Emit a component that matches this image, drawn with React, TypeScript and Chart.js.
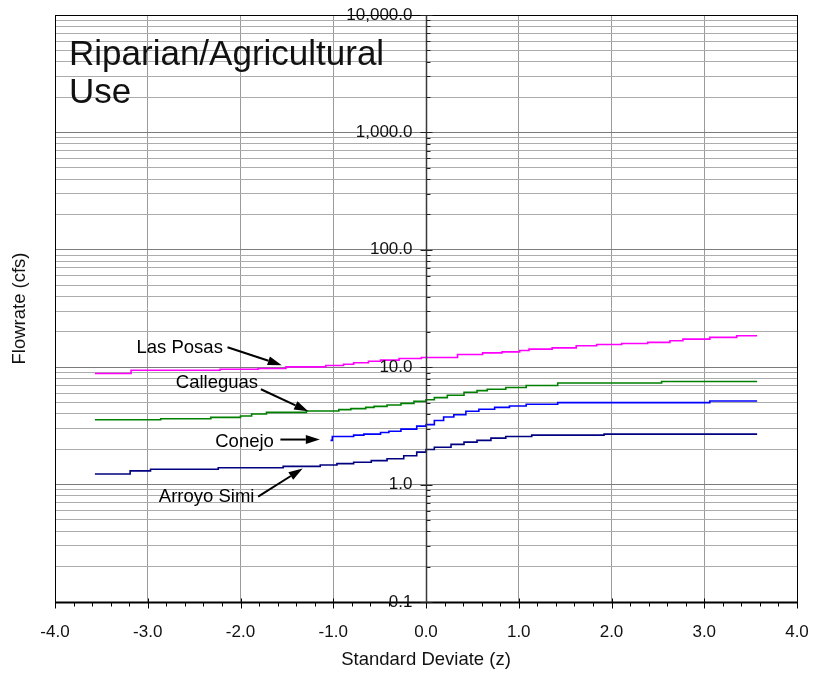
import { useEffect, useRef } from 'react';
import { Chart, registerables } from 'chart.js';

Chart.register(...registerables);

const FONT = '"Liberation Sans", Arial, Helvetica, sans-serif';

// Flow-duration curves: standard deviate (z) where each step begins, and flow (cfs) after the step
const lasPosasZ = [-3.57, -3.18, -2.22, -1.81, -1.51, -1.08, -0.89, -0.78, -0.62, -0.49, -0.29, -0.05, 0.34, 0.61, 0.82, 1.01, 1.11, 1.36, 1.62, 1.84, 2.11, 2.39, 2.63, 2.77, 3.06, 3.35, 3.57];
const lasPosasQ = [8.83, 9.43, 9.61, 9.75, 10.06, 10.34, 10.6, 10.9, 11.25, 11.48, 11.87, 12.1, 12.84, 13.25, 13.51, 13.89, 14.25, 14.62, 15.21, 15.63, 15.94, 16.26, 16.78, 17.35, 17.94, 18.52, 18.52];

const calleguasZ = [-3.57, -2.86, -2.32, -2.0, -1.88, -1.72, -1.29, -0.94, -0.81, -0.65, -0.56, -0.42, -0.27, -0.13, 0.0, 0.09, 0.23, 0.41, 0.55, 0.66, 0.86, 1.08, 1.42, 2.54, 3.57];
const calleguasQ = [3.57, 3.64, 3.74, 3.84, 3.99, 4.12, 4.23, 4.35, 4.44, 4.55, 4.64, 4.76, 4.92, 5.12, 5.28, 5.51, 5.77, 6.11, 6.32, 6.49, 6.71, 6.98, 7.34, 7.55, 7.55];

const conejoZ = [-1.03, -1.01, -0.78, -0.67, -0.49, -0.4, -0.27, -0.1, 0.0, 0.09, 0.19, 0.3, 0.43, 0.57, 0.74, 0.9, 1.08, 1.42, 3.06, 3.57];
const conejoQ = [2.38, 2.57, 2.64, 2.69, 2.78, 2.85, 2.97, 3.15, 3.24, 3.52, 3.76, 3.94, 4.21, 4.38, 4.55, 4.67, 4.83, 4.99, 5.15, 5.15];

const arroyoSimiZ = [-3.57, -3.19, -2.97, -2.24, -1.54, -1.14, -0.96, -0.78, -0.59, -0.42, -0.24, -0.1, 0.0, 0.09, 0.27, 0.41, 0.55, 0.7, 0.86, 1.14, 1.92, 3.57];
const arroyoSimiQ = [1.23, 1.31, 1.35, 1.39, 1.43, 1.47, 1.51, 1.55, 1.6, 1.66, 1.76, 1.89, 1.99, 2.08, 2.2, 2.3, 2.38, 2.49, 2.57, 2.64, 2.69, 2.69];

const seriesNames = ['Las Posas', 'Calleguas', 'Conejo', 'Arroyo Simi'];
const seriesColors = ['#ff00ff', '#008000', '#0000ff', '#000080'];

// Log axis: decade values and their labels
const yDecades = [0.1, 1, 10, 100, 1000, 10000];
const yDecadeLabels = ['0.1', '1.0', '10.0', '100.0', '1,000.0', '10,000.0'];

const chartTitleLines = ['Riparian/Agricultural', 'Use'];
const xTitle = 'Standard Deviate (z)';
const yTitle = 'Flowrate (cfs)';

// Callouts: label anchor (right end of text), arrow tail and arrow tip, in (z, cfs)
const calloutText = ['Las Posas', 'Calleguas', 'Conejo', 'Arroyo Simi'];
const calloutAnchor = [[-2.19, 14.5], [-1.81, 7.3], [-1.64, 2.29], [-1.85, 0.79]];
const calloutTail = [[-2.14, 14.8], [-1.78, 6.49], [-1.57, 2.42], [-1.81, 0.79]];
const calloutTip = [[-1.555, 10.4], [-1.27, 4.21], [-1.145, 2.42], [-1.33, 1.37]];

// every 1..9 x 10^n between 0.1 and 10,000
const yGridValues: number[] = [];
for (let e = -1; e <= 3; e++) {
  for (let m = 1; m <= 9; m++) yGridValues.push(Number((m * Math.pow(10, e)).toPrecision(3)));
}
yGridValues.push(10000);

const isDecade = (v: number) => yDecades.some((d) => Math.abs(d - v) / d < 1e-6);

function drawArrow(ctx: CanvasRenderingContext2D, x1: number, y1: number, x2: number, y2: number) {
  const ang = Math.atan2(y2 - y1, x2 - x1);
  const headLen = 14;
  const headW = 4.5;
  const bx = x2 - headLen * Math.cos(ang);
  const by = y2 - headLen * Math.sin(ang);
  ctx.beginPath();
  ctx.moveTo(x1, y1);
  ctx.lineTo(bx, by);
  ctx.lineWidth = 2;
  ctx.stroke();
  ctx.beginPath();
  ctx.moveTo(x2, y2);
  ctx.lineTo(bx + headW * Math.sin(ang), by - headW * Math.cos(ang));
  ctx.lineTo(bx - headW * Math.sin(ang), by + headW * Math.cos(ang));
  ctx.closePath();
  ctx.fill();
}

const decorPlugin = {
  id: 'decor',
  afterDraw(chart: any) {
    const { ctx, chartArea: a, scales } = chart;
    const xs = scales.x;
    const ys = scales.y;
    ctx.save();

    // plot frame
    ctx.strokeStyle = '#000';
    ctx.lineWidth = 1;
    ctx.strokeRect(Math.round(a.left) + 0.5, Math.round(a.top) + 0.5, Math.round(a.right - a.left), Math.round(a.bottom - a.top));

    // bottom axis line and ticks
    const yb = Math.round(a.bottom) + 0.5;
    ctx.lineWidth = 2;
    ctx.beginPath();
    ctx.moveTo(a.left, yb);
    ctx.lineTo(a.right, yb);
    ctx.stroke();
    ctx.lineWidth = 1;
    for (let i = -20; i <= 20; i++) {
      const px = Math.round(xs.getPixelForValue(i / 5)) + 0.5;
      const major = i % 5 === 0;
      ctx.beginPath();
      ctx.moveTo(px, yb - (major ? 4 : 0));
      ctx.lineTo(px, yb + (major ? 6 : 4));
      ctx.stroke();
    }

    // vertical axis through z = 0
    const x0 = Math.round(xs.getPixelForValue(0)) + 0.5;
    ctx.strokeStyle = '#3a3a3a';
    ctx.lineWidth = 1.5;
    ctx.beginPath();
    ctx.moveTo(x0, a.top);
    ctx.lineTo(x0, a.bottom);
    ctx.stroke();
    ctx.lineWidth = 1;
    ctx.strokeStyle = '#222';
    yGridValues.forEach((v) => {
      const py = Math.round(ys.getPixelForValue(v)) + 0.5;
      ctx.beginPath();
      if (isDecade(v)) {
        ctx.moveTo(x0 - 6, py);
        ctx.lineTo(x0 + 6, py);
      } else {
        ctx.moveTo(x0, py);
        ctx.lineTo(x0 + 4, py);
      }
      ctx.stroke();
    });

    // decade labels left of the axis
    ctx.fillStyle = '#111';
    ctx.font = `17px ${FONT}`;
    ctx.textAlign = 'right';
    ctx.textBaseline = 'middle';
    yDecades.forEach((v, i) => {
      ctx.fillText(yDecadeLabels[i], x0 - 14, ys.getPixelForValue(v));
    });

    // chart title inside the plot
    ctx.textAlign = 'left';
    ctx.textBaseline = 'alphabetic';
    ctx.font = `35px ${FONT}`;
    chartTitleLines.forEach((t, i) => ctx.fillText(t, a.left + 14, a.top + 50 + i * 38));

    // y-axis title
    ctx.save();
    ctx.translate(20, (a.top + a.bottom) / 2);
    ctx.rotate(-Math.PI / 2);
    ctx.textAlign = 'center';
    ctx.textBaseline = 'middle';
    ctx.font = `18.5px ${FONT}`;
    ctx.fillText(yTitle, 0, 0);
    ctx.restore();

    // callouts
    ctx.font = `18.5px ${FONT}`;
    ctx.textAlign = 'right';
    ctx.textBaseline = 'middle';
    ctx.fillStyle = '#000';
    ctx.strokeStyle = '#000';
    calloutText.forEach((t, i) => {
      const [ax, ay] = calloutAnchor[i];
      ctx.fillText(t, xs.getPixelForValue(ax), ys.getPixelForValue(ay));
      const [tx, ty] = calloutTail[i];
      const [hx, hy] = calloutTip[i];
      drawArrow(ctx, xs.getPixelForValue(tx), ys.getPixelForValue(ty), xs.getPixelForValue(hx), ys.getPixelForValue(hy));
    });

    ctx.restore();
  },
};

export default function App() {
  const canvasRef = useRef<HTMLCanvasElement | null>(null);

  useEffect(() => {
    document.body.style.margin = '0';
    const canvas = canvasRef.current;
    if (!canvas) return;

    const zs = [lasPosasZ, calleguasZ, conejoZ, arroyoSimiZ];
    const qs = [lasPosasQ, calleguasQ, conejoQ, arroyoSimiQ];

    const chart = new Chart(canvas, {
      type: 'line',
      data: {
        datasets: seriesNames.map((name, k) => ({
          label: name,
          data: zs[k].map((z, i) => ({ x: z, y: qs[k][i] })),
          borderColor: seriesColors[k],
          borderWidth: 1.6,
          pointRadius: 0,
          fill: false,
          stepped: 'before' as const,
        })),
      },
      options: {
        responsive: false,
        animation: false,
        devicePixelRatio: 1,
        layout: { padding: { left: 55, top: 15, right: 16, bottom: 0 } },
        plugins: { legend: { display: false }, tooltip: { enabled: false } },
        scales: {
          x: {
            type: 'linear',
            min: -4,
            max: 4,
            ticks: {
              stepSize: 1,
              padding: 20,
              color: '#111',
              font: { family: FONT, size: 17 },
              callback: (v: any) => Number(v).toFixed(1),
            },
            grid: { color: '#9a9a9a', lineWidth: 1, drawTicks: false },
            border: { display: false },
            title: {
              display: true,
              text: xTitle,
              color: '#111',
              font: { family: FONT, size: 18.5 },
              padding: { top: 0, bottom: 2 },
            },
            afterFit: (scale: any) => {
              scale.height = 71;
              scale.paddingLeft = 0;
              scale.paddingRight = 0;
            },
          },
          y: {
            type: 'logarithmic',
            min: 0.1,
            max: 10000,
            position: 'left',
            afterBuildTicks: (scale: any) => {
              scale.ticks = yGridValues.map((v) => ({ value: v }));
            },
            afterFit: (scale: any) => {
              scale.width = 0;
              scale.paddingTop = 0;
              scale.paddingBottom = 0;
            },
            ticks: { display: false },
            grid: {
              drawTicks: false,
              lineWidth: 1,
              color: (c: any) => (c.tick && isDecade(c.tick.value) ? '#7c7c7c' : '#acacac'),
            },
            border: { display: false },
          },
        },
      },
      plugins: [decorPlugin],
    });

    return () => chart.destroy();
  }, []);

  return (
    <div style={{ width: 813, height: 673 }}>
      <canvas ref={canvasRef} width={813} height={673} style={{ display: 'block' }} />
    </div>
  );
}
